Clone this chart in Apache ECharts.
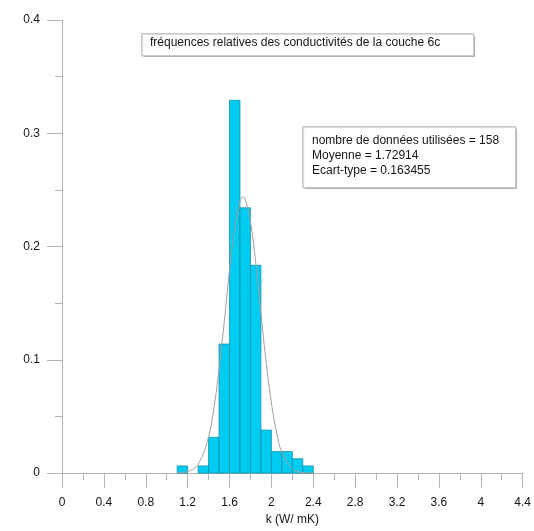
<!DOCTYPE html>
<html>
<head>
<meta charset="utf-8">
<script src="https://cdn.jsdelivr.net/npm/echarts@6/dist/echarts.min.js"></script>
<style>
html,body{margin:0;padding:0;background:#fff;}
#chart{width:534px;height:531px;}
</style>
</head>
<body>
<div id="chart"></div>
<script>
// Histogram bins (k, W/mK) and relative frequencies
var binStart = [1.1, 1.3, 1.4, 1.5, 1.6, 1.7, 1.8, 1.9, 2.0, 2.1, 2.2, 2.3];
var binEnd   = [1.2, 1.4, 1.5, 1.6, 1.7, 1.8, 1.9, 2.0, 2.1, 2.2, 2.3, 2.4];
var freq     = [0.0063, 0.0063, 0.0316, 0.1139, 0.3291, 0.2342, 0.1835, 0.0380, 0.0190, 0.0190, 0.0127, 0.0063];

// Fitted curve
var curveX = [1.1, 1.2, 1.3, 1.4, 1.45, 1.5, 1.55, 1.6, 1.65, 1.7, 1.73, 1.75, 1.8, 1.85, 1.9, 1.95, 2.0, 2.05, 2.1, 2.2, 2.3, 2.4];
var curveY = [0.0002, 0.0013, 0.0078, 0.0322, 0.057, 0.0915, 0.134, 0.179, 0.217, 0.240, 0.244, 0.242, 0.222, 0.186, 0.141, 0.098, 0.062, 0.0355, 0.0186, 0.0039, 0.0005, 0.0001];

var xTicks = ['0','0.4','0.8','1.2','1.6','2','2.4','2.8','3.2','3.6','4','4.4'];
var yTicks = ['0','0.1','0.2','0.3','0.4'];

var titleText = 'fréquences relatives des conductivités de la couche 6c';
var statsLines = ['nombre de données utilisées = 158', 'Moyenne = 1.72914', 'Ecart-type = 0.163455'];

var histData = binStart.map(function (s, i) { return [s, binEnd[i], freq[i]]; });
var curveData = curveX.map(function (x, i) { return [x, curveY[i]]; });

var FONT = 'Liberation Sans, Arial, sans-serif';
var axisColor = '#b4b4b4';
var textColor = '#151515';

var chart = echarts.init(document.getElementById('chart'), null, {renderer: 'canvas'});
chart.setOption({
  animation: false,
  backgroundColor: '#fff',
  grid: {left: 62, right: 11, top: 20, bottom: 52, containLabel: false},
  xAxis: {
    type: 'value', min: 0, max: 4.4, interval: 0.4,
    name: 'k (W/ mK)', nameLocation: 'middle', nameGap: 37,
    nameTextStyle: {fontFamily: FONT, fontSize: 12, color: textColor},
    axisLine: {show: true, onZero: false, lineStyle: {color: axisColor, width: 1}},
    axisTick: {show: true, inside: false, length: 15, lineStyle: {color: axisColor}},
    minorTick: {show: true, splitNumber: 2, length: 7, lineStyle: {color: axisColor}},
    splitLine: {show: false},
    axisLabel: {margin: 24, fontFamily: FONT, fontSize: 12, color: textColor,
      formatter: function (v) { var i = Math.round(v / 0.4); return xTicks[i] !== undefined ? xTicks[i] : ''; }}
  },
  yAxis: {
    type: 'value', min: 0, max: 0.4, interval: 0.1,
    axisLine: {show: true, onZero: false, lineStyle: {color: axisColor, width: 1}},
    axisTick: {show: true, inside: false, length: 15, lineStyle: {color: axisColor}},
    minorTick: {show: true, splitNumber: 2, length: 7, lineStyle: {color: axisColor}},
    splitLine: {show: false},
    axisLabel: {margin: 22, fontFamily: FONT, fontSize: 12, color: textColor,
      formatter: function (v) { var i = Math.round(v / 0.1); return yTicks[i] !== undefined ? yTicks[i] : ''; }}
  },
  series: [
    {
      type: 'custom',
      data: histData,
      encode: {x: [0, 1], y: 2},
      renderItem: function (params, api) {
        var p0 = api.coord([api.value(0), api.value(2)]);
        var p1 = api.coord([api.value(1), 0]);
        return {
          type: 'rect',
          shape: {x: p0[0], y: p0[1], width: p1[0] - p0[0], height: p1[1] - p0[1]},
          style: {fill: '#00ccf2', stroke: '#1690aa', lineWidth: 0.8}
        };
      },
      z: 2
    },
    {
      type: 'line',
      data: curveData,
      smooth: 0.4,
      showSymbol: false,
      symbol: 'none',
      lineStyle: {color: '#a0a0a0', width: 1},
      z: 3
    }
  ],
  graphic: [
    {
      type: 'rect', left: 141, top: 33, z: 10,
      shape: {width: 332, height: 22},
      style: {fill: '#fff', stroke: '#c8c8c8', lineWidth: 1, shadowColor: 'rgba(0,0,0,0.18)', shadowOffsetX: 1, shadowOffsetY: 1, shadowBlur: 1}
    },
    {
      type: 'text', left: 150, top: 37, z: 11,
      style: {text: titleText, font: '12px ' + FONT, fill: textColor}
    },
    {
      type: 'rect', left: 302, top: 126, z: 10,
      shape: {width: 213, height: 61},
      style: {fill: '#fff', stroke: '#c8c8c8', lineWidth: 1, shadowColor: 'rgba(0,0,0,0.18)', shadowOffsetX: 1, shadowOffsetY: 1, shadowBlur: 1}
    },
    {
      type: 'text', left: 312, top: 133, z: 11,
      style: {text: statsLines.join('\n'), font: '12px ' + FONT, fill: textColor, lineHeight: 15}
    }
  ]
});
</script>
</body>
</html>
